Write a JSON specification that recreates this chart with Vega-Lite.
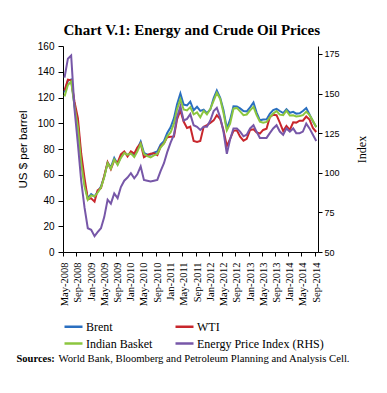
{
  "$schema": "https://vega.github.io/schema/vega-lite/v6.json",
  "padding": {"left": 16, "top": 23, "right": 5, "bottom": 5},
  "title": {"text": "Chart V.1: Energy and Crude Oil Prices", "font": "Liberation Serif", "fontSize": 15, "fontWeight": "bold", "color": "#000", "anchor": "middle", "offset": 3},
  "config": {
    "view": {"stroke": null},
    "axis": {"domainColor": "#000", "tickColor": "#000", "labelColor": "#000", "titleColor": "#000", "grid": false}
  },
  "resolve": {"scale": {"color": "independent"}, "legend": {"color": "independent"}},
  "spacing": 2,
  "vconcat": [
    {
      "width": 255,
      "height": 206,
      "data": {"values": [
        {"date":"2008-05-15","series":"Brent","value":123.9},{"date":"2008-06-15","series":"Brent","value":133.1},{"date":"2008-07-15","series":"Brent","value":133.9},{"date":"2008-08-15","series":"Brent","value":113.9},{"date":"2008-09-15","series":"Brent","value":99.1},{"date":"2008-10-15","series":"Brent","value":72.8},{"date":"2008-11-15","series":"Brent","value":53.2},{"date":"2008-12-15","series":"Brent","value":41.6},
        {"date":"2009-01-15","series":"Brent","value":44.9},{"date":"2009-02-15","series":"Brent","value":43.1},{"date":"2009-03-15","series":"Brent","value":46.8},{"date":"2009-04-15","series":"Brent","value":50.9},{"date":"2009-05-15","series":"Brent","value":58.6},{"date":"2009-06-15","series":"Brent","value":69.3},{"date":"2009-07-15","series":"Brent","value":65.8},{"date":"2009-08-15","series":"Brent","value":73.1},{"date":"2009-09-15","series":"Brent","value":68.2},{"date":"2009-10-15","series":"Brent","value":73.9},{"date":"2009-11-15","series":"Brent","value":77.5},{"date":"2009-12-15","series":"Brent","value":75.2},
        {"date":"2010-01-15","series":"Brent","value":76.9},{"date":"2010-02-15","series":"Brent","value":74.7},{"date":"2010-03-15","series":"Brent","value":79.9},{"date":"2010-04-15","series":"Brent","value":85.7},{"date":"2010-05-15","series":"Brent","value":77.0},{"date":"2010-06-15","series":"Brent","value":75.7},{"date":"2010-07-15","series":"Brent","value":75.5},{"date":"2010-08-15","series":"Brent","value":77.1},{"date":"2010-09-15","series":"Brent","value":78.2},{"date":"2010-10-15","series":"Brent","value":83.5},{"date":"2010-11-15","series":"Brent","value":86.1},{"date":"2010-12-15","series":"Brent","value":92.4},
        {"date":"2011-01-15","series":"Brent","value":96.9},{"date":"2011-02-15","series":"Brent","value":104.0},{"date":"2011-03-15","series":"Brent","value":114.6},{"date":"2011-04-15","series":"Brent","value":123.1},{"date":"2011-05-15","series":"Brent","value":114.5},{"date":"2011-06-15","series":"Brent","value":113.9},{"date":"2011-07-15","series":"Brent","value":116.8},{"date":"2011-08-15","series":"Brent","value":110.1},{"date":"2011-09-15","series":"Brent","value":112.8},{"date":"2011-10-15","series":"Brent","value":109.6},{"date":"2011-11-15","series":"Brent","value":110.5},{"date":"2011-12-15","series":"Brent","value":107.9},
        {"date":"2012-01-15","series":"Brent","value":110.7},{"date":"2012-02-15","series":"Brent","value":119.6},{"date":"2012-03-15","series":"Brent","value":125.4},{"date":"2012-04-15","series":"Brent","value":119.8},{"date":"2012-05-15","series":"Brent","value":110.3},{"date":"2012-06-15","series":"Brent","value":95.9},{"date":"2012-07-15","series":"Brent","value":102.8},{"date":"2012-08-15","series":"Brent","value":113.2},{"date":"2012-09-15","series":"Brent","value":113.0},{"date":"2012-10-15","series":"Brent","value":111.5},{"date":"2012-11-15","series":"Brent","value":109.5},{"date":"2012-12-15","series":"Brent","value":109.2},
        {"date":"2013-01-15","series":"Brent","value":112.3},{"date":"2013-02-15","series":"Brent","value":116.1},{"date":"2013-03-15","series":"Brent","value":108.5},{"date":"2013-04-15","series":"Brent","value":102.3},{"date":"2013-05-15","series":"Brent","value":102.9},{"date":"2013-06-15","series":"Brent","value":103.0},{"date":"2013-07-15","series":"Brent","value":107.4},{"date":"2013-08-15","series":"Brent","value":110.3},{"date":"2013-09-15","series":"Brent","value":111.2},{"date":"2013-10-15","series":"Brent","value":109.5},{"date":"2013-11-15","series":"Brent","value":107.9},{"date":"2013-12-15","series":"Brent","value":110.8},
        {"date":"2014-01-15","series":"Brent","value":108.1},{"date":"2014-02-15","series":"Brent","value":108.9},{"date":"2014-03-15","series":"Brent","value":107.5},{"date":"2014-04-15","series":"Brent","value":107.8},{"date":"2014-05-15","series":"Brent","value":109.5},{"date":"2014-06-15","series":"Brent","value":111.8},{"date":"2014-07-15","series":"Brent","value":106.8},{"date":"2014-08-15","series":"Brent","value":101.6},{"date":"2014-09-15","series":"Brent","value":97.1},

        {"date":"2008-05-15","series":"WTI","value":125.4},{"date":"2008-06-15","series":"WTI","value":133.9},{"date":"2008-07-15","series":"WTI","value":133.4},{"date":"2008-08-15","series":"WTI","value":116.6},{"date":"2008-09-15","series":"WTI","value":103.9},{"date":"2008-10-15","series":"WTI","value":76.7},{"date":"2008-11-15","series":"WTI","value":57.4},{"date":"2008-12-15","series":"WTI","value":41.0},
        {"date":"2009-01-15","series":"WTI","value":41.7},{"date":"2009-02-15","series":"WTI","value":39.1},{"date":"2009-03-15","series":"WTI","value":47.9},{"date":"2009-04-15","series":"WTI","value":49.6},{"date":"2009-05-15","series":"WTI","value":59.0},{"date":"2009-06-15","series":"WTI","value":69.7},{"date":"2009-07-15","series":"WTI","value":64.3},{"date":"2009-08-15","series":"WTI","value":71.1},{"date":"2009-09-15","series":"WTI","value":69.5},{"date":"2009-10-15","series":"WTI","value":75.8},{"date":"2009-11-15","series":"WTI","value":78.1},{"date":"2009-12-15","series":"WTI","value":74.3},
        {"date":"2010-01-15","series":"WTI","value":78.2},{"date":"2010-02-15","series":"WTI","value":76.4},{"date":"2010-03-15","series":"WTI","value":81.2},{"date":"2010-04-15","series":"WTI","value":84.3},{"date":"2010-05-15","series":"WTI","value":73.7},{"date":"2010-06-15","series":"WTI","value":75.3},{"date":"2010-07-15","series":"WTI","value":76.3},{"date":"2010-08-15","series":"WTI","value":76.6},{"date":"2010-09-15","series":"WTI","value":75.2},{"date":"2010-10-15","series":"WTI","value":81.9},{"date":"2010-11-15","series":"WTI","value":84.3},{"date":"2010-12-15","series":"WTI","value":89.2},
        {"date":"2011-01-15","series":"WTI","value":89.6},{"date":"2011-02-15","series":"WTI","value":89.7},{"date":"2011-03-15","series":"WTI","value":102.9},{"date":"2011-04-15","series":"WTI","value":110.0},{"date":"2011-05-15","series":"WTI","value":101.3},{"date":"2011-06-15","series":"WTI","value":96.3},{"date":"2011-07-15","series":"WTI","value":97.3},{"date":"2011-08-15","series":"WTI","value":86.3},{"date":"2011-09-15","series":"WTI","value":85.5},{"date":"2011-10-15","series":"WTI","value":86.3},{"date":"2011-11-15","series":"WTI","value":97.2},{"date":"2011-12-15","series":"WTI","value":98.6},
        {"date":"2012-01-15","series":"WTI","value":100.3},{"date":"2012-02-15","series":"WTI","value":102.2},{"date":"2012-03-15","series":"WTI","value":106.2},{"date":"2012-04-15","series":"WTI","value":103.3},{"date":"2012-05-15","series":"WTI","value":94.7},{"date":"2012-06-15","series":"WTI","value":82.3},{"date":"2012-07-15","series":"WTI","value":87.9},{"date":"2012-08-15","series":"WTI","value":94.1},{"date":"2012-09-15","series":"WTI","value":94.5},{"date":"2012-10-15","series":"WTI","value":89.5},{"date":"2012-11-15","series":"WTI","value":86.5},{"date":"2012-12-15","series":"WTI","value":87.9},
        {"date":"2013-01-15","series":"WTI","value":94.8},{"date":"2013-02-15","series":"WTI","value":95.3},{"date":"2013-03-15","series":"WTI","value":92.9},{"date":"2013-04-15","series":"WTI","value":92.0},{"date":"2013-05-15","series":"WTI","value":94.8},{"date":"2013-06-15","series":"WTI","value":95.8},{"date":"2013-07-15","series":"WTI","value":104.7},{"date":"2013-08-15","series":"WTI","value":106.6},{"date":"2013-09-15","series":"WTI","value":106.3},{"date":"2013-10-15","series":"WTI","value":100.5},{"date":"2013-11-15","series":"WTI","value":93.9},{"date":"2013-12-15","series":"WTI","value":97.9},
        {"date":"2014-01-15","series":"WTI","value":94.9},{"date":"2014-02-15","series":"WTI","value":100.7},{"date":"2014-03-15","series":"WTI","value":100.5},{"date":"2014-04-15","series":"WTI","value":102.0},{"date":"2014-05-15","series":"WTI","value":102.0},{"date":"2014-06-15","series":"WTI","value":105.2},{"date":"2014-07-15","series":"WTI","value":102.9},{"date":"2014-08-15","series":"WTI","value":96.4},{"date":"2014-09-15","series":"WTI","value":93.2},

        {"date":"2008-05-15","series":"Indian Basket","value":120.9},{"date":"2008-06-15","series":"Indian Basket","value":129.7},{"date":"2008-07-15","series":"Indian Basket","value":132.5},{"date":"2008-08-15","series":"Indian Basket","value":113.1},{"date":"2008-09-15","series":"Indian Basket","value":96.8},{"date":"2008-10-15","series":"Indian Basket","value":69.1},{"date":"2008-11-15","series":"Indian Basket","value":50.9},{"date":"2008-12-15","series":"Indian Basket","value":40.6},
        {"date":"2009-01-15","series":"Indian Basket","value":44.0},{"date":"2009-02-15","series":"Indian Basket","value":43.2},{"date":"2009-03-15","series":"Indian Basket","value":46.0},{"date":"2009-04-15","series":"Indian Basket","value":50.1},{"date":"2009-05-15","series":"Indian Basket","value":58.0},{"date":"2009-06-15","series":"Indian Basket","value":69.1},{"date":"2009-07-15","series":"Indian Basket","value":64.8},{"date":"2009-08-15","series":"Indian Basket","value":71.9},{"date":"2009-09-15","series":"Indian Basket","value":67.7},{"date":"2009-10-15","series":"Indian Basket","value":73.1},{"date":"2009-11-15","series":"Indian Basket","value":77.0},{"date":"2009-12-15","series":"Indian Basket","value":75.5},
        {"date":"2010-01-15","series":"Indian Basket","value":76.6},{"date":"2010-02-15","series":"Indian Basket","value":73.7},{"date":"2010-03-15","series":"Indian Basket","value":78.0},{"date":"2010-04-15","series":"Indian Basket","value":84.1},{"date":"2010-05-15","series":"Indian Basket","value":76.3},{"date":"2010-06-15","series":"Indian Basket","value":74.5},{"date":"2010-07-15","series":"Indian Basket","value":73.5},{"date":"2010-08-15","series":"Indian Basket","value":75.1},{"date":"2010-09-15","series":"Indian Basket","value":76.1},{"date":"2010-10-15","series":"Indian Basket","value":81.1},{"date":"2010-11-15","series":"Indian Basket","value":84.3},{"date":"2010-12-15","series":"Indian Basket","value":89.8},
        {"date":"2011-01-15","series":"Indian Basket","value":92.8},{"date":"2011-02-15","series":"Indian Basket","value":99.7},{"date":"2011-03-15","series":"Indian Basket","value":110.7},{"date":"2011-04-15","series":"Indian Basket","value":118.7},{"date":"2011-05-15","series":"Indian Basket","value":110.7},{"date":"2011-06-15","series":"Indian Basket","value":110.0},{"date":"2011-07-15","series":"Indian Basket","value":112.5},{"date":"2011-08-15","series":"Indian Basket","value":106.9},{"date":"2011-09-15","series":"Indian Basket","value":108.4},{"date":"2011-10-15","series":"Indian Basket","value":104.6},{"date":"2011-11-15","series":"Indian Basket","value":109.6},{"date":"2011-12-15","series":"Indian Basket","value":106.9},
        {"date":"2012-01-15","series":"Indian Basket","value":111.0},{"date":"2012-02-15","series":"Indian Basket","value":117.5},{"date":"2012-03-15","series":"Indian Basket","value":123.6},{"date":"2012-04-15","series":"Indian Basket","value":118.9},{"date":"2012-05-15","series":"Indian Basket","value":108.1},{"date":"2012-06-15","series":"Indian Basket","value":94.5},{"date":"2012-07-15","series":"Indian Basket","value":99.6},{"date":"2012-08-15","series":"Indian Basket","value":111.3},{"date":"2012-09-15","series":"Indian Basket","value":111.9},{"date":"2012-10-15","series":"Indian Basket","value":109.2},{"date":"2012-11-15","series":"Indian Basket","value":106.3},{"date":"2012-12-15","series":"Indian Basket","value":106.8},
        {"date":"2013-01-15","series":"Indian Basket","value":110.0},{"date":"2013-02-15","series":"Indian Basket","value":112.7},{"date":"2013-03-15","series":"Indian Basket","value":106.5},{"date":"2013-04-15","series":"Indian Basket","value":101.3},{"date":"2013-05-15","series":"Indian Basket","value":100.4},{"date":"2013-06-15","series":"Indian Basket","value":101.0},{"date":"2013-07-15","series":"Indian Basket","value":104.5},{"date":"2013-08-15","series":"Indian Basket","value":107.5},{"date":"2013-09-15","series":"Indian Basket","value":109.5},{"date":"2013-10-15","series":"Indian Basket","value":106.7},{"date":"2013-11-15","series":"Indian Basket","value":106.3},{"date":"2013-12-15","series":"Indian Basket","value":109.8},
        {"date":"2014-01-15","series":"Indian Basket","value":106.0},{"date":"2014-02-15","series":"Indian Basket","value":106.2},{"date":"2014-03-15","series":"Indian Basket","value":105.3},{"date":"2014-04-15","series":"Indian Basket","value":105.6},{"date":"2014-05-15","series":"Indian Basket","value":106.3},{"date":"2014-06-15","series":"Indian Basket","value":109.0},{"date":"2014-07-15","series":"Indian Basket","value":106.3},{"date":"2014-08-15","series":"Indian Basket","value":101.9},{"date":"2014-09-15","series":"Indian Basket","value":96.9},

        {"date":"2008-05-15","series":"Energy Price Index (RHS)","value":160},{"date":"2008-06-15","series":"Energy Price Index (RHS)","value":172},{"date":"2008-07-15","series":"Energy Price Index (RHS)","value":174},{"date":"2008-08-15","series":"Energy Price Index (RHS)","value":140},{"date":"2008-09-15","series":"Energy Price Index (RHS)","value":118},{"date":"2008-10-15","series":"Energy Price Index (RHS)","value":95},{"date":"2008-11-15","series":"Energy Price Index (RHS)","value":78},{"date":"2008-12-15","series":"Energy Price Index (RHS)","value":65},
        {"date":"2009-01-15","series":"Energy Price Index (RHS)","value":64},{"date":"2009-02-15","series":"Energy Price Index (RHS)","value":60},{"date":"2009-03-15","series":"Energy Price Index (RHS)","value":62.5},{"date":"2009-04-15","series":"Energy Price Index (RHS)","value":65},{"date":"2009-05-15","series":"Energy Price Index (RHS)","value":72},{"date":"2009-06-15","series":"Energy Price Index (RHS)","value":83},{"date":"2009-07-15","series":"Energy Price Index (RHS)","value":80.5},{"date":"2009-08-15","series":"Energy Price Index (RHS)","value":87},{"date":"2009-09-15","series":"Energy Price Index (RHS)","value":84},{"date":"2009-10-15","series":"Energy Price Index (RHS)","value":91},{"date":"2009-11-15","series":"Energy Price Index (RHS)","value":95},{"date":"2009-12-15","series":"Energy Price Index (RHS)","value":97},
        {"date":"2010-01-15","series":"Energy Price Index (RHS)","value":99.7},{"date":"2010-02-15","series":"Energy Price Index (RHS)","value":96.5},{"date":"2010-03-15","series":"Energy Price Index (RHS)","value":99},{"date":"2010-04-15","series":"Energy Price Index (RHS)","value":104},{"date":"2010-05-15","series":"Energy Price Index (RHS)","value":95.5},{"date":"2010-06-15","series":"Energy Price Index (RHS)","value":95},{"date":"2010-07-15","series":"Energy Price Index (RHS)","value":94.5},{"date":"2010-08-15","series":"Energy Price Index (RHS)","value":95},{"date":"2010-09-15","series":"Energy Price Index (RHS)","value":95.5},{"date":"2010-10-15","series":"Energy Price Index (RHS)","value":101},{"date":"2010-11-15","series":"Energy Price Index (RHS)","value":106},{"date":"2010-12-15","series":"Energy Price Index (RHS)","value":113},
        {"date":"2011-01-15","series":"Energy Price Index (RHS)","value":119},{"date":"2011-02-15","series":"Energy Price Index (RHS)","value":124},{"date":"2011-03-15","series":"Energy Price Index (RHS)","value":135},{"date":"2011-04-15","series":"Energy Price Index (RHS)","value":142},{"date":"2011-05-15","series":"Energy Price Index (RHS)","value":133},{"date":"2011-06-15","series":"Energy Price Index (RHS)","value":134},{"date":"2011-07-15","series":"Energy Price Index (RHS)","value":137},{"date":"2011-08-15","series":"Energy Price Index (RHS)","value":130},{"date":"2011-09-15","series":"Energy Price Index (RHS)","value":129},{"date":"2011-10-15","series":"Energy Price Index (RHS)","value":127},{"date":"2011-11-15","series":"Energy Price Index (RHS)","value":129},{"date":"2011-12-15","series":"Energy Price Index (RHS)","value":129},
        {"date":"2012-01-15","series":"Energy Price Index (RHS)","value":133},{"date":"2012-02-15","series":"Energy Price Index (RHS)","value":139},{"date":"2012-03-15","series":"Energy Price Index (RHS)","value":141},{"date":"2012-04-15","series":"Energy Price Index (RHS)","value":135},{"date":"2012-05-15","series":"Energy Price Index (RHS)","value":126},{"date":"2012-06-15","series":"Energy Price Index (RHS)","value":112},{"date":"2012-07-15","series":"Energy Price Index (RHS)","value":121},{"date":"2012-08-15","series":"Energy Price Index (RHS)","value":128},{"date":"2012-09-15","series":"Energy Price Index (RHS)","value":128},{"date":"2012-10-15","series":"Energy Price Index (RHS)","value":126},{"date":"2012-11-15","series":"Energy Price Index (RHS)","value":123},{"date":"2012-12-15","series":"Energy Price Index (RHS)","value":124},
        {"date":"2013-01-15","series":"Energy Price Index (RHS)","value":128},{"date":"2013-02-15","series":"Energy Price Index (RHS)","value":130},{"date":"2013-03-15","series":"Energy Price Index (RHS)","value":126},{"date":"2013-04-15","series":"Energy Price Index (RHS)","value":122},{"date":"2013-05-15","series":"Energy Price Index (RHS)","value":122},{"date":"2013-06-15","series":"Energy Price Index (RHS)","value":122},{"date":"2013-07-15","series":"Energy Price Index (RHS)","value":125},{"date":"2013-08-15","series":"Energy Price Index (RHS)","value":128},{"date":"2013-09-15","series":"Energy Price Index (RHS)","value":130},{"date":"2013-10-15","series":"Energy Price Index (RHS)","value":126},{"date":"2013-11-15","series":"Energy Price Index (RHS)","value":124},{"date":"2013-12-15","series":"Energy Price Index (RHS)","value":128},
        {"date":"2014-01-15","series":"Energy Price Index (RHS)","value":126},{"date":"2014-02-15","series":"Energy Price Index (RHS)","value":128},{"date":"2014-03-15","series":"Energy Price Index (RHS)","value":125},{"date":"2014-04-15","series":"Energy Price Index (RHS)","value":125},{"date":"2014-05-15","series":"Energy Price Index (RHS)","value":126},{"date":"2014-06-15","series":"Energy Price Index (RHS)","value":131},{"date":"2014-07-15","series":"Energy Price Index (RHS)","value":128},{"date":"2014-08-15","series":"Energy Price Index (RHS)","value":124},{"date":"2014-09-15","series":"Energy Price Index (RHS)","value":120}
      ]},
      "encoding": {
        "x": {
          "field": "date", "type": "temporal",
          "scale": {"type": "utc", "domain": [{"year": 2008, "month": 5, "date": 1, "utc": true}, {"year": 2014, "month": 10, "date": 1, "utc": true}], "nice": false},
          "axis": {"title": null, "format": "%b-%Y", "tickCount": {"interval": "month", "step": 4}, "labelAngle": 270, "labelFont": "Liberation Serif", "labelFontSize": 10.5, "tickSize": 4, "labelPadding": 6, "labelOffset": 1.5, "labelOverlap": false, "labelFlush": false}
        },
        "color": {
          "field": "series", "type": "nominal",
          "scale": {"domain": ["Brent", "WTI", "Indian Basket", "Energy Price Index (RHS)"], "range": ["#2a6fc0", "#c8262c", "#8cc63f", "#7757a8"]},
          "legend": {"title": null, "orient": "bottom", "direction": "horizontal", "columns": 2, "symbolType": "stroke", "symbolSize": 324, "symbolStrokeWidth": 2.5, "labelFont": "Liberation Serif", "labelFontSize": 12, "labelColor": "#000", "labelOffset": 2, "columnPadding": 17, "rowPadding": 0, "offset": 10, "padding": 0}
        }
      },
      "layer": [
        {
          "transform": [{"filter": "datum.series !== 'Energy Price Index (RHS)'"}],
          "mark": {"type": "line", "strokeWidth": 2},
          "encoding": {
            "y": {"field": "value", "type": "quantitative", "scale": {"domain": [0, 160], "nice": false},
              "axis": {"title": "US $ per barrel", "titleFont": "Liberation Sans", "titleFontSize": 11.5, "titleFontWeight": "normal", "titlePadding": 9, "values": [0, 20, 40, 60, 80, 100, 120, 140, 160], "labelFont": "Liberation Sans", "labelFontSize": 10, "tickSize": 5, "labelPadding": 4}}
          }
        },
        {
          "transform": [{"filter": "datum.series === 'Energy Price Index (RHS)'"}],
          "mark": {"type": "line", "strokeWidth": 2},
          "encoding": {
            "y": {"field": "value", "type": "quantitative", "scale": {"domain": [50, 180], "nice": false},
              "axis": {"orient": "right", "title": "Index", "titleAngle": 270, "titleFont": "Liberation Serif", "titleFontSize": 12, "titleFontWeight": "normal", "titlePadding": 29, "values": [50, 75, 100, 125, 150, 175], "labelFont": "Liberation Sans", "labelFontSize": 9, "tickSize": 4, "labelPadding": 2}}
          }
        }
      ],
      "resolve": {"scale": {"y": "independent"}}
    },
    {
      "spacing": 0,
      "bounds": "flush",
      "hconcat": [
        {
          "width": 0,
          "height": 1,
          "data": {"values": [{}]},
          "mark": {"type": "rule", "opacity": 0},
          "encoding": {},
          "title": {"text": "Sources:", "anchor": "start", "dx": -46, "font": "Liberation Serif", "fontSize": 10.5, "fontWeight": "bold", "color": "#000", "offset": 0}
        },
        {
          "width": 0,
          "height": 1,
          "data": {"values": [{}]},
          "mark": {"type": "rule", "opacity": 0},
          "encoding": {},
          "title": {"text": "World Bank, Bloomberg and Petroleum Planning and Analysis Cell.", "anchor": "start", "dx": -24, "font": "Liberation Serif", "fontSize": 10.7, "fontWeight": "normal", "color": "#000", "offset": 0}
        }
      ]
    }
  ]
}
